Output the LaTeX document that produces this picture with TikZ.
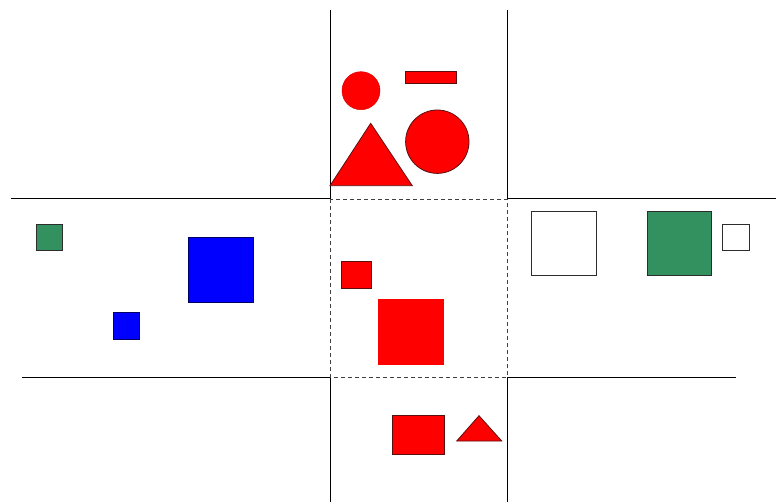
\documentclass[tikz,border=0pt]{standalone}
\usepackage{xcolor,tikz}
\usetikzlibrary{positioning,calc}
\definecolor{seagreen}{RGB}{50,145,95}
\definecolor{edge}{RGB}{45,45,45}
\definecolor{rededge}{RGB}{90,15,15}

\begin{document}
\begin{tikzpicture}[x=1pt,y=-1pt,line width=1pt,
  outlined/.style={draw=edge,line width=0.8pt},
  redbox/.style={outlined,draw=rededge,fill=red},
  bluebox/.style={outlined,draw=blue!40!black,fill=blue},
  greenbox/.style={outlined,fill=seagreen},
  emptybox/.style={outlined,fill=white}]
\useasboundingbox (0,0) rectangle (776,502);
% grid lines
\coordinate (tl) at (330,199);
\coordinate (br) at (507,377);
\draw (330,10) -- (tl);
\draw (507,10) -- (507,199);
\draw (330,377) -- (330,502);
\draw (507,377) -- (507,502);
\draw (11,199) -- (tl);
\draw (507,199) -- (776,199);
\draw (22,377) -- (330,377);
\draw (br) -- (736,377);
\draw[dash pattern=on 4pt off 3pt,line width=0.9pt,draw=black!75] (tl) rectangle (br);
% top cell
\fill[red,draw=red!85!black,line width=0.5pt] (361,90.7) circle (19);
\draw[redbox] (405,71.7) rectangle (456.7,83.3);
\draw[redbox] (437.3,141.7) circle (31.7);
\draw[redbox] (370.7,123.3) -- (412.3,185.7) -- (330,185.7) -- cycle;
% left cell
\draw[greenbox] (36,224) rectangle (62,250);
\draw[bluebox] (188.3,237.3) rectangle (253.3,302);
\draw[bluebox] (113,312.7) rectangle (139,339);
% middle cell
\draw[redbox] (341,261.3) rectangle (371,288.7);
\fill[red] (378.3,299.3) rectangle (444.3,365.3);
% right cell
\draw[emptybox] (531.7,211) rectangle (596.3,275);
\draw[greenbox] (647,211) rectangle (711.3,275);
\draw[emptybox] (722.7,224.3) rectangle (749.7,250);
% bottom cell
\draw[redbox] (392.7,415) rectangle (444,454.3);
\draw[redbox] (479,415.7) -- (501.7,441) -- (456.7,441) -- cycle;
\end{tikzpicture}
\end{document}
